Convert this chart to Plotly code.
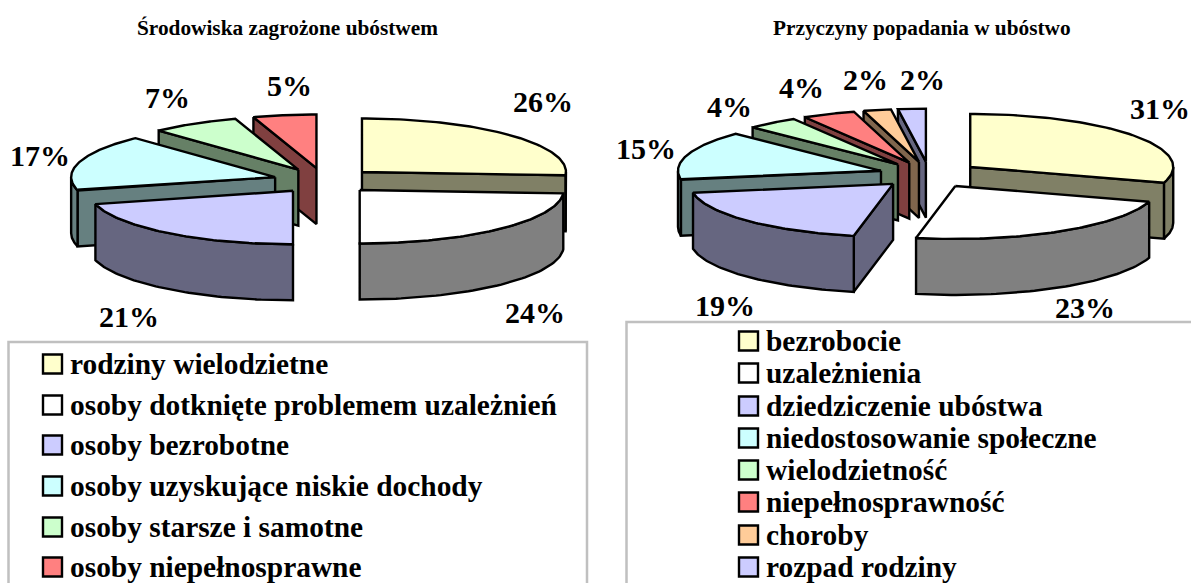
import numpy as np
import plotly.graph_objects as go

# ---- data ----
left_title = "Środowiska zagrożone ubóstwem"
left_categories = ["rodziny wielodzietne", "osoby dotknięte problemem uzależnień", "osoby bezrobotne",
                   "osoby uzyskujące niskie dochody", "osoby starsze i samotne", "osoby niepełnosprawne"]
left_values = [26, 24, 21, 17, 7, 5]
left_labels = ["26%", "24%", "21%", "17%", "7%", "5%"]

right_title = "Przyczyny popadania w ubóstwo"
right_categories = ["bezrobocie", "uzależnienia", "dziedziczenie ubóstwa", "niedostosowanie społeczne",
                    "wielodzietność", "niepełnosprawność", "choroby", "rozpad rodziny"]
right_values = [29.8, 23.3, 19.2, 15, 4.1, 4.2, 2.2, 2.2]
right_labels = ["31%", "23%", "19%", "15%", "4%", "4%", "2%", "2%"]

left_top = ["#FFFFCC", "#FFFFFF", "#CCCCFF", "#CCFFFF", "#CCFFCC", "#FF8080"]
left_wall = ["#808066", "#808080", "#666680", "#668080", "#668066", "#804040"]
right_top = ["#FFFFCC", "#FFFFFF", "#CCCCFF", "#CCFFFF", "#CCFFCC", "#FF8080", "#FFCC99", "#CCCCFF"]
right_wall = ["#808066", "#808080", "#666680", "#668080", "#668066", "#804040", "#80664D", "#666680"]

W, H = 1191, 583
FONT = "Liberation Serif"
fig = go.Figure()


def poly(xs, ys, color):
    fig.add_trace(go.Scatter(x=xs, y=ys, mode="lines", fill="toself", fillcolor=color,
                             line=dict(color="black", width=2.4), hoverinfo="skip", showlegend=False))


def pie(values, tops, walls, order, cx, cy, ex, ey, rx, ry, depth):
    v = np.array(values, float)
    edges = np.concatenate([[0], np.cumsum(v)]) / v.sum() * 2 * np.pi
    for i in order:
        a, b = edges[i], edges[i + 1]
        m = (a + b) / 2
        ax, ay = cx + ex * np.sin(m), cy - ey * np.cos(m)
        px = lambda t: ax + rx * np.sin(t)
        py = lambda t: ay - ry * np.cos(t)
        # radial walls that face the viewer
        for t, vis in ((a, np.sin(a) < -1e-6), (b, np.sin(b) > 1e-6)):
            if vis:
                poly([ax, px(t), px(t), ax, ax],
                     [ay, py(t), py(t) + depth, ay + depth, ay], walls[i])
        # curved outer wall (only the front half of the ellipse)
        lo, hi = max(a, np.pi / 2), min(b, 3 * np.pi / 2)
        if hi > lo:
            t = np.linspace(lo, hi, 60)
            poly(list(px(t)) + list(px(t[::-1])) + [px(t[0])],
                 list(py(t)) + list(py(t[::-1]) + depth) + [py(t[0])], walls[i])
        # top face
        t = np.linspace(a, b, 80)
        poly([ax] + list(px(t)) + [ax], [ay] + list(py(t)) + [ay], tops[i])


pie(left_values, left_top, left_wall, [5, 4, 3, 2, 0, 1], 324.5, 180.7, 51.4, 12.8, 204, 53.5, 56)
pie(right_values, right_top, right_wall, [7, 6, 5, 4, 3, 2, 0, 1], 929.4, 174.7, 50.7, 13.1, 203, 53, 56)

ann = []


def text(x, y, s, size, anchor="center"):
    ann.append(dict(x=x, y=y, xref="x", yref="y", text=s, showarrow=False, xanchor=anchor, yanchor="middle",
                    font=dict(family=FONT, size=size, color="black", weight="bold")))


text(287, 28, left_title, 21.3)
text(922, 28, right_title, 21.3)

left_pos = [(543, 101), (535, 312), (129, 316), (40, 155), (167, 97), (289, 85)]
right_pos = [(1160, 108), (1085, 307), (725, 305), (646, 148), (729, 106), (801, 87), (865, 79), (922, 79)]
for (x, y), s in zip(left_pos, left_labels):
    text(x, y, s, 30)
for (x, y), s in zip(right_pos, right_labels):
    text(x, y, s, 30)

shapes = [
    dict(type="path", xref="x", yref="y", path=f"M8.5,{H+5} L8.5,342 L587,342 L587,{H+5}",
         line=dict(color="#C0C0C0", width=2.5)),
    dict(type="path", xref="x", yref="y", path=f"M626.5,{H+5} L626.5,322 L{W+5},322",
         line=dict(color="#C0C0C0", width=2.5)),
]


def legend(cats, colors, rows, x0, x1, tx, size):
    for c, col, y in zip(cats, colors, rows):
        shapes.append(dict(type="rect", xref="x", yref="y", x0=x0, x1=x1, y0=y - 9.5, y1=y + 9.5,
                           fillcolor=col, line=dict(color="black", width=2.4)))
        text(tx, y, c, size, "left")


legend(left_categories, left_top, [364, 405, 445, 486, 527, 567], 43, 62, 68, 29.4)
legend(right_categories, right_top, [341, 373, 406, 438, 470, 502, 535, 567], 739, 758, 763.5, 29.4)

fig.update_layout(width=W, height=H, margin=dict(l=0, r=0, t=0, b=0), paper_bgcolor="white", plot_bgcolor="white",
                  xaxis=dict(range=[0, W], visible=False), yaxis=dict(range=[H, 0], visible=False),
                  showlegend=False, annotations=ann, shapes=shapes)
fig.write_html("out.html", config=dict(displayModeBar=False),
               post_script="document.body.style.margin='0';document.body.style.overflow='hidden';")
